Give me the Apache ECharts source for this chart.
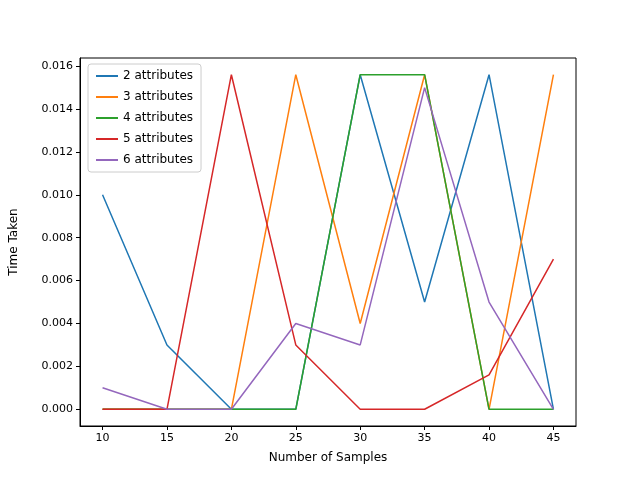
<html>
<head>
<meta charset="utf-8">
<script src="https://cdn.jsdelivr.net/npm/echarts@6/dist/echarts.min.js"></script>
</head>
<body style="margin:0">
<div id="chart" style="width:640px;height:480px;"></div>
<script>
var samples = [10, 15, 20, 25, 30, 35, 40, 45];
var attr2 = [0.010, 0.003, 0, 0, 0.0156, 0.005, 0.0156, 0];
var attr3 = [0, 0, 0, 0.0156, 0.004, 0.0156, 0, 0.0156];
var attr4 = [0, 0, 0, 0, 0.0156, 0.0156, 0, 0];
var attr5 = [0, 0, 0.0156, 0.003, 0, 0, 0.0016, 0.007];
var attr6 = [0.001, 0, 0, 0.004, 0.003, 0.015, 0.005, 0];
var yTicks = [0, 0.002, 0.004, 0.006, 0.008, 0.010, 0.012, 0.014, 0.016];

var names = ['2 attributes', '3 attributes', '4 attributes', '5 attributes', '6 attributes'];
var values = [attr2, attr3, attr4, attr5, attr6];
var colors = ['#1f77b4', '#ff7f0e', '#2ca02c', '#d62728', '#9467bd'];

var series = names.map(function (n, i) {
  return {
    name: n, type: 'line', showSymbol: false, animation: false,
    lineStyle: { width: 1.5, color: colors[i] }, itemStyle: { color: colors[i] },
    data: samples.map(function (x, j) { return [x, values[i][j]]; })
  };
});

var chart = echarts.init(document.getElementById('chart'));
chart.setOption({
  textStyle: { fontFamily: 'DejaVu Sans' },
  grid: { left: 80, right: 64, top: 58, bottom: 54 },
  legend: {
    orient: 'vertical', left: 88, top: 64, itemWidth: 22, itemHeight: 2, itemGap: 9,
    borderColor: '#ccc', borderWidth: 1, borderRadius: 3, padding: [6, 8],
    backgroundColor: 'rgba(255,255,255,0.8)',
    textStyle: { fontSize: 12, color: '#000' },
    icon: 'rect'
  },
  xAxis: {
    type: 'value', min: 8.25, max: 46.75,
    name: 'Number of Samples', nameLocation: 'middle', nameGap: 26,
    nameTextStyle: { fontSize: 12, color: '#000' },
    axisLine: { onZero: false, lineStyle: { color: '#000' } },
    axisTick: { show: true, customValues: samples, length: 4, lineStyle: { color: '#000' } },
    axisLabel: { customValues: samples, color: '#000', fontSize: 11, margin: 7 },
    splitLine: { show: false }
  },
  yAxis: {
    type: 'value', min: -0.00078, max: 0.01638,
    name: 'Time Taken', nameLocation: 'middle', nameGap: 60,
    nameTextStyle: { fontSize: 12, color: '#000' },
    axisLine: { show: true, onZero: false, lineStyle: { color: '#000' } },
    axisTick: { show: true, customValues: yTicks, length: 4, lineStyle: { color: '#000' } },
    axisLabel: { customValues: yTicks, color: '#000', fontSize: 11, margin: 7,
      formatter: function (v) { return v.toFixed(3); } },
    splitLine: { show: false }
  },
  series: series,
  graphic: [{
    type: 'rect', silent: true, z: -1,
    shape: { x: 80, y: 58, width: 496, height: 368 },
    style: { fill: 'none', stroke: '#000', lineWidth: 1 }
  }]
});
</script>
</body>
</html>
